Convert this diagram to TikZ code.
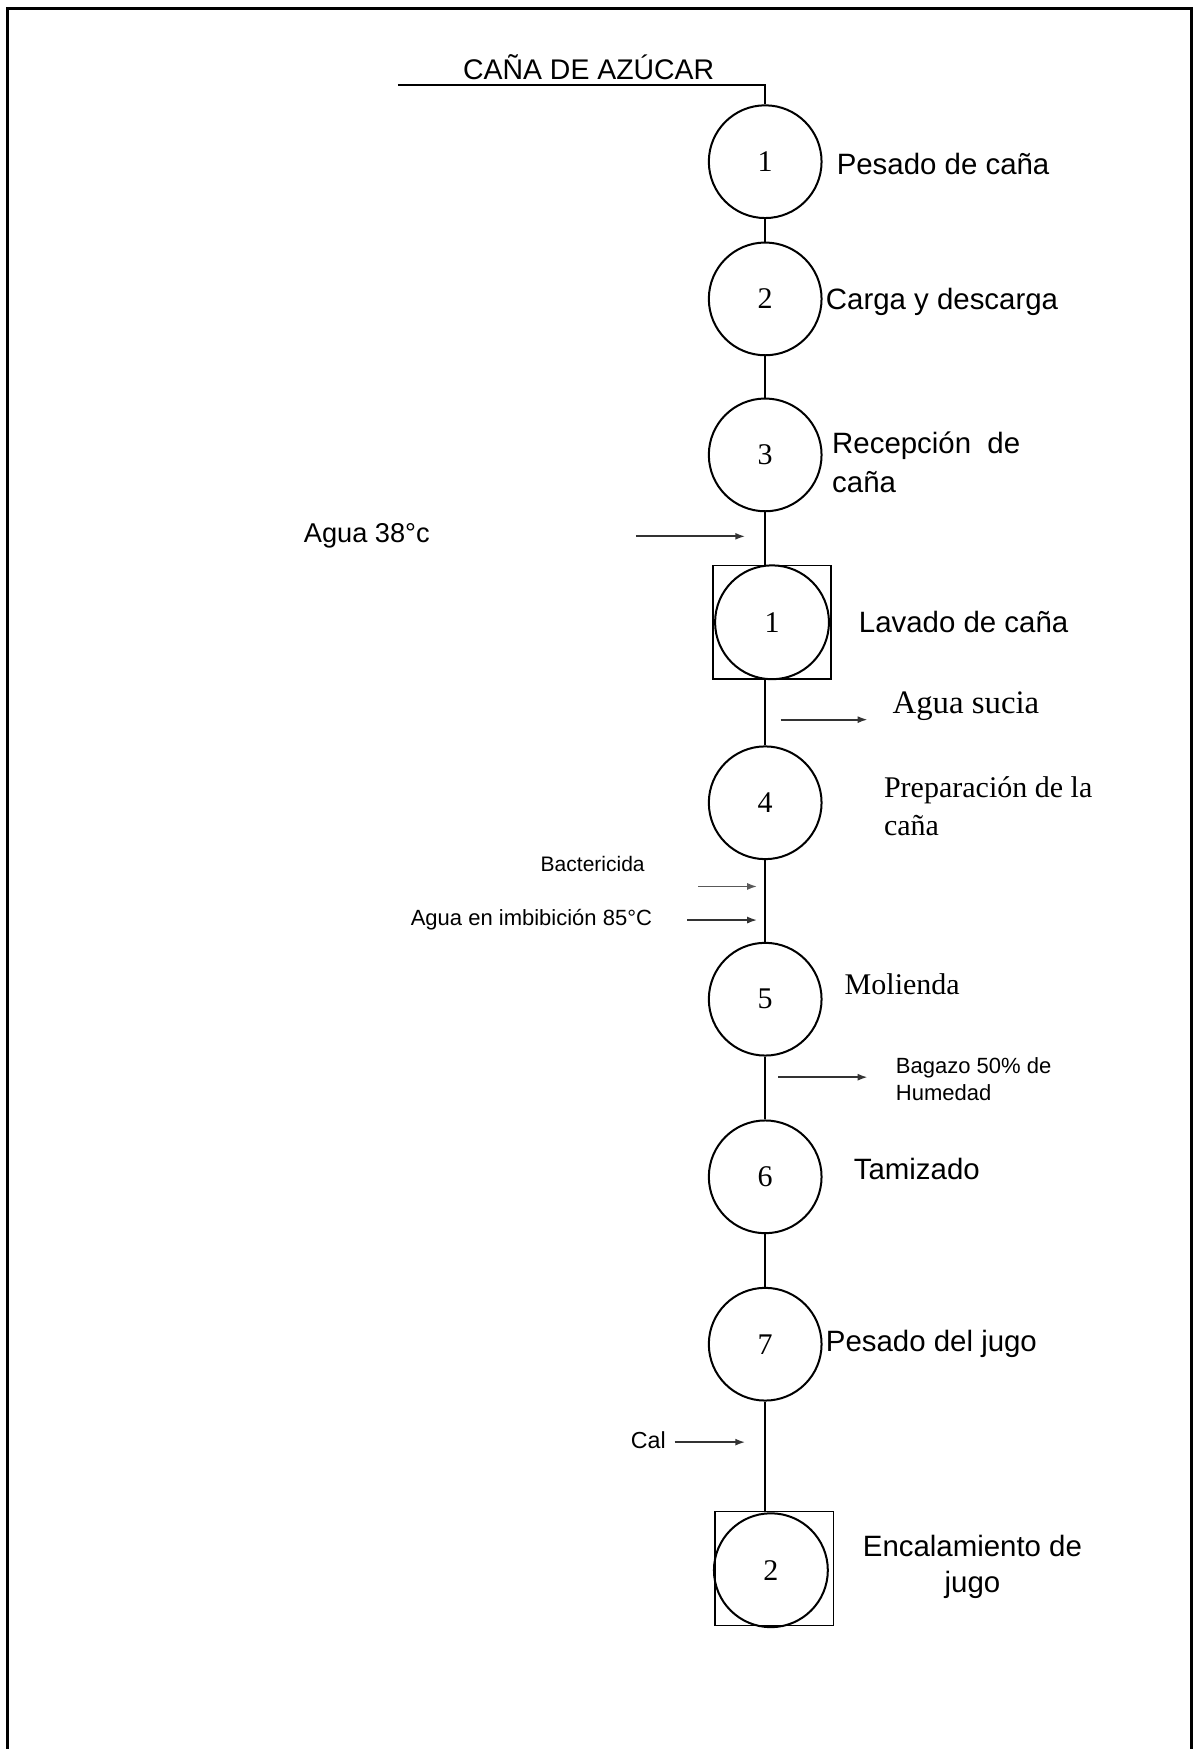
\documentclass[tikz,border=0pt]{standalone}
\usepackage{fontspec}
\setmainfont{Liberation Sans}
\newfontfamily\tnr{Liberation Serif}
\usetikzlibrary{arrows.meta}

\begin{document}
\begin{tikzpicture}[font=\fontsize{14.7}{19.5}\selectfont,
    etapa/.style={circle, draw, line width=1pt, minimum size=1.98cm, inner sep=0pt, font=\tnr\fontsize{15}{18}\selectfont},
    caja/.style={draw, line width=0.8pt, minimum width=2.08cm, minimum height=2cm, inner sep=0pt},
    rotulo/.style={anchor=west, inner sep=0pt, align=left},
    chico/.style={inner sep=0pt, font=\fontsize{11}{13.4}\selectfont},
    linea/.style={line width=1pt},
    flecha/.style={-{Latex[length=5pt, width=3.5pt]}, line width=0.9pt, black!80}]
        \useasboundingbox (0,0) rectangle (20.96,-30.72);
        % marco
        \draw[line width=1.3pt] (0.13,-30.72) -- (0.13,-0.15) -- (20.93,-0.15) -- (20.93,-30.72);

        % entrada
        \node[inner sep=0pt, font=\fontsize{14.2}{17}\selectfont] (titulo) at (10.34,-1.18) {CAÑA DE AZÚCAR};
        \coordinate (inicio) at (6.99,-1.49);
        \coordinate (esquina) at (13.44,-1.49);

        % etapas
        \node[etapa] (e1) at (13.44,-2.84) {1};
        \node[etapa] (e2) at (13.44,-5.25) {2};
        \node[etapa] (e3) at (13.44,-7.99) {3};
        \node[caja] (i1) at (13.56,-10.93) {};
        \node[etapa, minimum size=2cm] (c1) at (13.56,-10.93) {1};
        \node[etapa] (e4) at (13.44,-14.10) {4};
        \node[etapa] (e5) at (13.44,-17.55) {5};
        \node[etapa] (e6) at (13.44,-20.67) {6};
        \node[etapa] (e7) at (13.44,-23.61) {7};
        \node[caja] (i2) at (13.60,-27.55) {};
        \node[etapa, minimum size=2cm] (c2) at (13.54,-27.58) {2};

        % rotulos
        \node[rotulo] (l1) at (14.69,-2.88) {Pesado de caña};
        \node[rotulo] (l2) at (14.50,-5.31) {Carga y descarga};
        \node[rotulo] (l3) at (14.61,-8.12) {Recepción~ de\\caña};
        \node[rotulo] (li1) at (15.08,-10.93) {Lavado de caña};
        \node[rotulo, font=\tnr\fontsize{15}{19}\selectfont] (l4) at (15.52,-14.16) {Preparación de la\\caña};
        \node[rotulo, font=\tnr\fontsize{15}{18}\selectfont] (l5) at (14.83,-17.28) {Molienda};
        \node[rotulo] (l6) at (14.99,-20.53) {Tamizado};
        \node[rotulo] (l7) at (14.50,-23.61) {Pesado del jugo};
        \node[align=center, inner sep=0pt, font=\fontsize{14.7}{17.8}\selectfont] (li2) at (17.08,-27.52) {Encalamiento de\\jugo};

        % linea principal
        \draw[line width=1.2pt] (inicio) -- (esquina) -- (e1);
        \draw[linea] (e1) -- (e2);
        \draw[linea] (e2) -- (e3);
        \draw[linea] (e3) -- (e3 |- i1.north);
        \draw[linea] (i1.south -| e4) -- (e4);
        \draw[linea] (e4) -- (e5);
        \draw[linea] (e5) -- (e6);
        \draw[linea] (e6) -- (e7);
        \draw[linea] (e7) -- (e7 |- i2.north);

        % entradas y salidas
        \node[rotulo, font=\fontsize{13.6}{16}\selectfont] (agua) at (5.33,-9.42) {Agua 38°c};
        \coordinate (agua-a) at (11.17,-9.42);
        \coordinate (agua-b) at (13.09,-9.42);
        \draw[flecha] (agua-a) -- (agua-b);

        \node[rotulo, font=\tnr\fontsize{16.4}{19}\selectfont] (sucia) at (15.67,-12.40) {Agua sucia};
        \coordinate (sucia-a) at (13.71,-12.64);
        \coordinate (sucia-b) at (15.24,-12.64);
        \draw[flecha] (sucia-a) -- (sucia-b);

        \node[chico, font=\fontsize{10.5}{12}\selectfont] (bact) at (10.41,-15.18) {Bactericida};
        \coordinate (bact-a) at (12.26,-15.57);
        \coordinate (bact-b) at (13.30,-15.57);
        \draw[flecha, black!65] (bact-a) -- (bact-b);

        \node[chico, anchor=east] (imb) at (11.46,-16.16) {Agua en imbibición 85°C};
        \coordinate (imb-a) at (12.07,-16.16);
        \coordinate (imb-b) at (13.30,-16.16);
        \draw[flecha] (imb-a) -- (imb-b);

        \node[rotulo, chico] (bagazo) at (15.73,-18.96) {Bagazo 50\% de\\Humedad};
        \coordinate (bagazo-a) at (13.67,-18.92);
        \coordinate (bagazo-b) at (15.24,-18.92);
        \draw[flecha] (bagazo-a) -- (bagazo-b);

        \node[chico, anchor=east, font=\fontsize{11.6}{14}\selectfont] (cal) at (11.70,-25.29) {Cal};
        \coordinate (cal-a) at (11.85,-25.33);
        \coordinate (cal-b) at (13.09,-25.33);
        \draw[flecha] (cal-a) -- (cal-b);
    \end{tikzpicture}
\end{document}
